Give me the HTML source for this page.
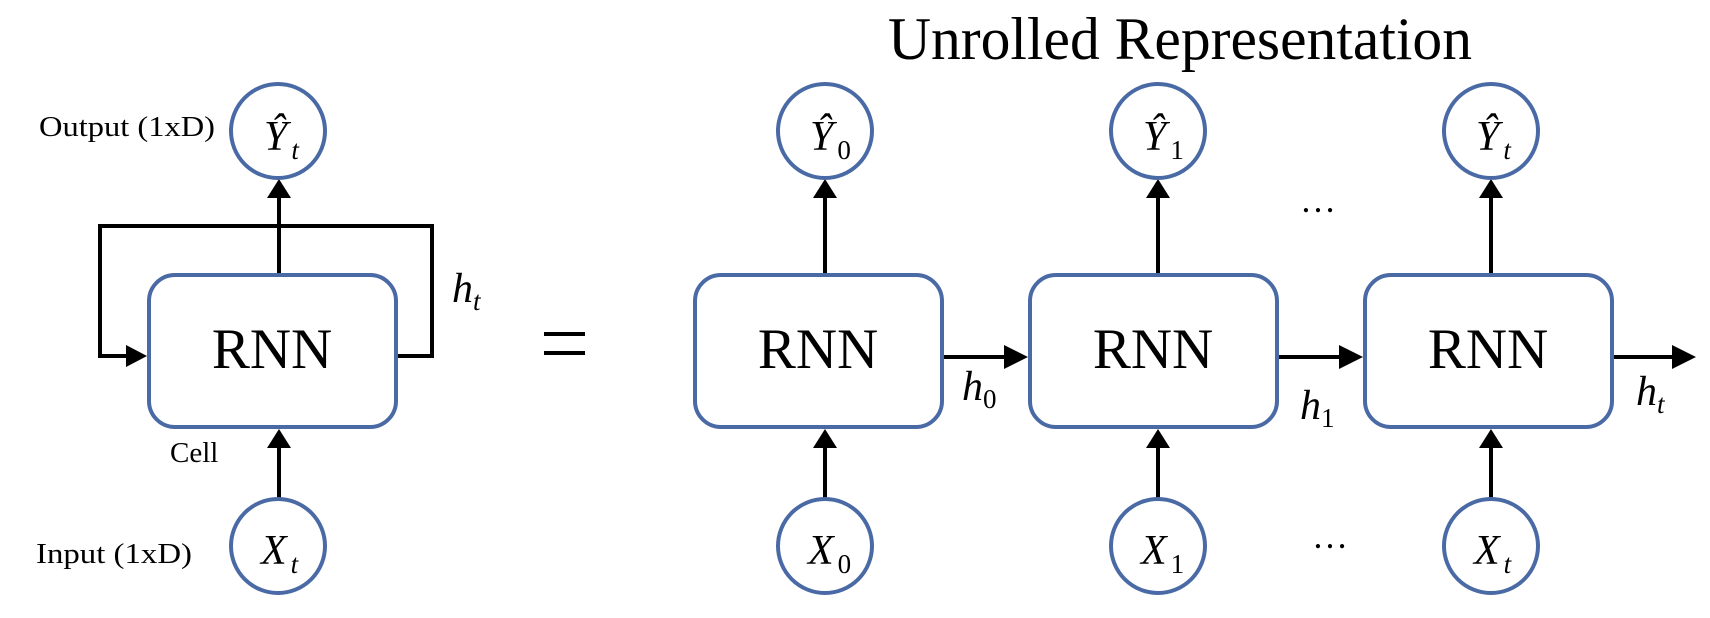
<!DOCTYPE html>
<html><head><meta charset="utf-8"><style>
html,body{margin:0;padding:0;background:#fff;}
svg{display:block;}
text{font-family:"Liberation Serif",serif;fill:#000;}
</style></head><body>
<svg width="1710" height="618" viewBox="0 0 1710 618">
<g id="left">
  <path d="M279,273 V197" stroke="#000" stroke-width="4" fill="none"/>
  <polygon points="279,179 267,198 291,198" fill="#000"/>
  <path d="M279,226 H432 V356 H397 M279,226 H100 V356 H128" stroke="#000" stroke-width="4" fill="none"/>
  <polygon points="147,356 126,345 126,367" fill="#000"/>
  <rect x="149" y="275" width="247" height="152" rx="26" fill="#fff" stroke="#4a6aa5" stroke-width="4"/>
  <text x="272" y="368" font-size="57" text-anchor="middle">RNN</text>
  <text x="452" y="302" font-size="42" font-style="italic">h<tspan font-size="27" dy="8">t</tspan></text>
  <circle cx="278" cy="131" r="47" fill="#fff" stroke="#4a6aa5" stroke-width="4"/>
  <text x="264" y="150" font-size="42" font-style="italic">Ŷ<tspan font-size="27" dx="4" dy="9">t</tspan></text>
  <text x="39" y="136" font-size="29" textLength="176" lengthAdjust="spacingAndGlyphs">Output (1xD)</text>
  <path d="M279,498 V445" stroke="#000" stroke-width="4" fill="none"/>
  <polygon points="279,429 267,448 291,448" fill="#000"/>
  <text x="170" y="462" font-size="29">Cell</text>
  <circle cx="278" cy="546" r="47" fill="#fff" stroke="#4a6aa5" stroke-width="4"/>
  <text x="261" y="564" font-size="42" font-style="italic">X<tspan font-size="27" dx="4" dy="9">t</tspan></text>
  <text x="36" y="563" font-size="29" textLength="156" lengthAdjust="spacingAndGlyphs">Input (1xD)</text>
</g>
<g>
  <rect x="544" y="332" width="41" height="4" fill="#000"/>
  <rect x="544" y="351" width="41" height="4" fill="#000"/>
</g>
<text x="888" y="59" font-size="60" textLength="584" lengthAdjust="spacingAndGlyphs">Unrolled Representation</text>
<g id="unrolled"></g>
<script>
const subs = ['0','1','t'];
const hsubs = ['0','1','t'];
const g = document.getElementById('unrolled');
const NS = 'http://www.w3.org/2000/svg';
function mk(tag, attrs, parent){const e=document.createElementNS(NS,tag);for(const k in attrs)e.setAttribute(k,attrs[k]);(parent||g).appendChild(e);return e;}
function label(x,y,main,sub,dx,dy){
  const t=mk('text',{x:x,y:y,'font-size':42,'font-style':'italic'});
  t.appendChild(document.createTextNode(main));
  const ts=mk('tspan',{'font-size':27,dx:dx,dy:dy,'font-style':sub==='t'?'italic':'normal'},t);
  ts.textContent=sub;
  return t;
}
const hy=[400,419,405];
subs.forEach((s,i)=>{
  const bx=693+i*335, cx=825+i*333;
  let e;
  e=mk('path',{d:`M${cx},273 V197 M${cx},498 V445`,stroke:'#000','stroke-width':4,fill:'none'});
  
  
  e=mk('polygon',{points:`${cx},179 ${cx-12},198 ${cx+12},198`,fill:'#000'});
  
  
  e=mk('polygon',{points:`${cx},429 ${cx-12},448 ${cx+12},448`,fill:'#000'});
  
  
  const endX = i<2 ? bx+335 : 1696;
  e=mk('path',{d:`M${bx+251},357 H${endX-22}`,stroke:'#000','stroke-width':4,fill:'none'});
  
  
  e=mk('polygon',{points:`${endX},357 ${endX-24},345 ${endX-24},369`,fill:'#000'});
  
  
  e=mk('rect',{x:bx+2,y:275,width:247,height:152,rx:26,fill:'#fff',stroke:'#4a6aa5','stroke-width':4});
  
  
  e=mk('text',{x:bx+125,y:368,'font-size':57,'text-anchor':'middle'});
  e.textContent='RNN';
  
  
  e=mk('circle',{cx:cx,cy:131,r:47,fill:'#fff',stroke:'#4a6aa5','stroke-width':4});
  
  
  e=mk('circle',{cx:cx,cy:546,r:47,fill:'#fff',stroke:'#4a6aa5','stroke-width':4});
  
  
  e=label(cx-15,150,'Ŷ',s,4,9);
  
  
  e=label(cx-17,564,'X',s,4,9);
  
  
  e=label([962,1300,1636][i],hy[i],'h',hsubs[i],0,8);
  
  
});
let d=mk('text',{x:1300,y:212,'font-size':36});
d.textContent='…';


d=mk('text',{x:1312,y:548,'font-size':36});
d.textContent='…';


</script>
</svg>
</body></html>
